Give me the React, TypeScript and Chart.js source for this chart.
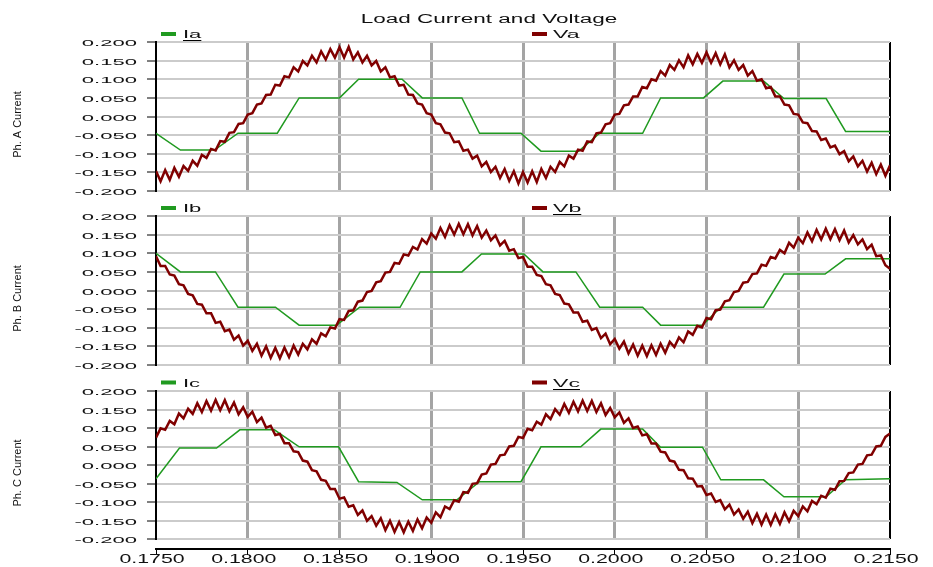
import React, { useEffect, useRef } from "react";
import { Chart, registerables } from "chart.js";

Chart.register(...registerables);

// ---------------- axes / labels ----------------
const X_MIN = 0.175;
const X_MAX = 0.215;
const X_STEP = 0.005;
const Y_MIN = -0.2;
const Y_MAX = 0.2;
const Y_STEP = 0.05;
const X_DECIMALS = 4;
const Y_DECIMALS = 3;

const CHART_TITLE = "Load Current and Voltage";
const Y_TITLES = ["Ph. A Current", "Ph. B Current", "Ph. C Current"];
const I_NAMES = ["Ia", "Ib", "Ic"];
const V_NAMES = ["Va", "Vb", "Vc"];

// ---------------- voltage traces (sampled every 0.25 ms from 0.1750 s) ----------------
const V_T0 = 0.175;
const V_DT = 0.00025;

const VA = [
  -0.146, -0.174, -0.144, -0.170, -0.138, -0.162, -0.133, -0.146, -0.119, -0.132, -0.103, -0.111, -0.087, -0.091, -0.066, -0.068, -0.044, -0.042, -0.020, -0.018, 0.005,
  0.009, 0.032, 0.035, 0.058, 0.059, 0.085, 0.083, 0.108, 0.105, 0.132, 0.121, 0.149, 0.137, 0.163, 0.145, 0.175, 0.153, 0.181, 0.158, 0.186,
  0.158, 0.187, 0.153, 0.172, 0.145, 0.163, 0.137, 0.149, 0.121, 0.132, 0.105, 0.108, 0.083, 0.085, 0.059, 0.058, 0.035, 0.032, 0.009, 0.005,
  -0.018, -0.021, -0.043, -0.045, -0.069, -0.067, -0.092, -0.089, -0.113, -0.105, -0.134, -0.122, -0.149, -0.135, -0.165, -0.141, -0.173, -0.147, -0.180, -0.149,
  -0.177, -0.147, -0.176, -0.141, -0.165, -0.135, -0.149, -0.122, -0.134, -0.105, -0.113, -0.089, -0.092, -0.067, -0.069, -0.045, -0.043, -0.021, -0.018, 0.005,
  0.007, 0.030, 0.032, 0.054, 0.054, 0.079, 0.076, 0.100, 0.096, 0.122, 0.110, 0.138, 0.125, 0.151, 0.132, 0.164, 0.140, 0.168, 0.144, 0.172,
  0.144, 0.170, 0.140, 0.167, 0.132, 0.151, 0.125, 0.138, 0.110, 0.122, 0.096, 0.100, 0.076, 0.079, 0.054, 0.054, 0.032, 0.030, 0.007, 0.005,
  -0.016, -0.018, -0.039, -0.040, -0.063, -0.059, -0.083, -0.078, -0.101, -0.093, -0.120, -0.107, -0.134, -0.119, -0.148, -0.124, -0.155, -0.129, -0.159, -0.131,
];

const VB = [
  0.092, 0.066, 0.066, 0.043, 0.040, 0.017, 0.014,
  -0.009, -0.013, -0.036, -0.038, -0.061, -0.061, -0.087, -0.084, -0.109, -0.105, -0.132, -0.121, -0.148, -0.135, -0.162, -0.143, -0.175, -0.150, -0.181, -0.154,
  -0.182, -0.153, -0.179, -0.148, -0.172, -0.143, -0.158, -0.131, -0.143, -0.115, -0.123, -0.099, -0.102, -0.077, -0.079, -0.055, -0.053, -0.030, -0.027, -0.004,
  -0.001, 0.022, 0.025, 0.048, 0.050, 0.074, 0.072, 0.097, 0.094, 0.117, 0.110, 0.138, 0.126, 0.153, 0.139, 0.168, 0.144, 0.175, 0.150, 0.179,
  0.151, 0.178, 0.148, 0.173, 0.142, 0.161, 0.135, 0.148, 0.121, 0.133, 0.107, 0.111, 0.087, 0.090, 0.064, 0.064, 0.042, 0.039, 0.017, 0.014,
  -0.009, -0.012, -0.035, -0.037, -0.059, -0.059, -0.084, -0.081, -0.106, -0.101, -0.128, -0.116, -0.144, -0.130, -0.156, -0.137, -0.169, -0.145, -0.175, -0.148,
  -0.176, -0.147, -0.173, -0.143, -0.167, -0.138, -0.152, -0.126, -0.139, -0.110, -0.119, -0.095, -0.099, -0.074, -0.077, -0.053, -0.051, -0.029, -0.026, -0.004,
  -0.001, 0.021, 0.023, 0.044, 0.046, 0.069, 0.066, 0.090, 0.086, 0.109, 0.100, 0.128, 0.115, 0.142, 0.127, 0.156, 0.132, 0.163, 0.137, 0.166,
  0.138, 0.165, 0.135, 0.161, 0.129, 0.149, 0.124, 0.137, 0.111, 0.123, 0.092, 0.094, 0.068, 0.058,
];

const VC = [
  0.074, 0.099, 0.095, 0.119, 0.110, 0.139, 0.126, 0.152, 0.138, 0.167, 0.143, 0.173, 0.147, 0.176,
  0.148, 0.175, 0.145, 0.169, 0.137, 0.156, 0.130, 0.144, 0.116, 0.128, 0.101, 0.106, 0.081, 0.084, 0.059, 0.059, 0.037, 0.035, 0.012, 0.009,
  -0.014, -0.017, -0.040, -0.043, -0.065, -0.065, -0.091, -0.088, -0.113, -0.109, -0.135, -0.123, -0.151, -0.138, -0.164, -0.144, -0.176, -0.151, -0.181, -0.154,
  -0.182, -0.153, -0.178, -0.147, -0.171, -0.142, -0.156, -0.128, -0.141, -0.112, -0.119, -0.095, -0.099, -0.073, -0.075, -0.051, -0.049, -0.026, -0.023, 0.001,
  0.003, 0.026, 0.028, 0.050, 0.052, 0.076, 0.073, 0.098, 0.094, 0.117, 0.109, 0.137, 0.124, 0.151, 0.136, 0.165, 0.141, 0.171, 0.145, 0.174,
  0.146, 0.173, 0.143, 0.167, 0.135, 0.154, 0.129, 0.142, 0.114, 0.126, 0.100, 0.104, 0.080, 0.083, 0.058, 0.058, 0.036, 0.034, 0.012, 0.009,
  -0.013, -0.014, -0.036, -0.037, -0.058, -0.057, -0.081, -0.077, -0.100, -0.095, -0.120, -0.107, -0.134, -0.120, -0.145, -0.126, -0.157, -0.132, -0.161, -0.134,
  -0.162, -0.133, -0.159, -0.128, -0.152, -0.124, -0.138, -0.112, -0.125, -0.097, -0.106, -0.083, -0.088, -0.064, -0.067, -0.044, -0.043, -0.022, -0.020, 0.001,
  0.003, 0.026, 0.028, 0.050, 0.052, 0.076, 0.085,
];

// ---------------- current traces (breakpoints: time, value) ----------------
const IA_T = [0.175, 0.17633, 0.17819, 0.17947, 0.18161, 0.1828, 0.185, 0.18604, 0.18841, 0.18951, 0.19167, 0.19263, 0.19489, 0.19598, 0.19804, 0.19918, 0.20152, 0.2025, 0.20484, 0.20589, 0.20811, 0.20922, 0.21152, 0.21258, 0.215];
const IA_V = [-0.045, -0.09, -0.09, -0.045, -0.045, 0.05, 0.05, 0.1, 0.1, 0.05, 0.05, -0.045, -0.045, -0.093, -0.093, -0.045, -0.045, 0.05, 0.05, 0.095, 0.095, 0.048, 0.048, -0.04, -0.04];

const IB_T = [0.175, 0.17633, 0.17824, 0.17947, 0.18151, 0.1828, 0.18484, 0.1861, 0.1883, 0.1894, 0.19167, 0.19274, 0.19505, 0.19609, 0.19788, 0.19918, 0.20152, 0.2025, 0.20478, 0.20578, 0.20811, 0.20922, 0.21146, 0.21258, 0.215];
const IB_V = [0.1, 0.05, 0.05, -0.045, -0.045, -0.093, -0.093, -0.045, -0.045, 0.05, 0.05, 0.098, 0.098, 0.05, 0.05, -0.045, -0.045, -0.093, -0.093, -0.045, -0.045, 0.044, 0.044, 0.085, 0.085];

const IC_T = [0.175, 0.17628, 0.1783, 0.17957, 0.18145, 0.1828, 0.18495, 0.18604, 0.18813, 0.18951, 0.1914, 0.19263, 0.19489, 0.19598, 0.19815, 0.19924, 0.20152, 0.2025, 0.20478, 0.20578, 0.20811, 0.20922, 0.21152, 0.21258, 0.215];
const IC_V = [-0.037, 0.046, 0.046, 0.095, 0.095, 0.049, 0.049, -0.045, -0.047, -0.094, -0.094, -0.045, -0.045, 0.049, 0.049, 0.097, 0.097, 0.048, 0.048, -0.04, -0.04, -0.086, -0.086, -0.04, -0.037];

// ---------------- styling ----------------
const RED = "#800000";
const GREEN = "#209a20";
const FONT = '"Liberation Sans", Arial, Helvetica, sans-serif';
const W = 933;

type Spec = {
  top: number;
  height: number;
  padTop: number;
  padBottom: number;
  xGap: number;
  legendY: number;
  underline: "i" | "v";
  title: boolean;
  xLabels: boolean;
  yTitle: string;
  iName: string;
  vName: string;
  it: number[];
  iv: number[];
  v: number[];
};

const PANELS: Spec[] = [
  { top: 0, height: 200, padTop: 42, padBottom: 9, xGap: 0, legendY: 34, underline: "i", title: true, xLabels: false, yTitle: Y_TITLES[0], iName: I_NAMES[0], vName: V_NAMES[0], it: IA_T, iv: IA_V, v: VA },
  { top: 200, height: 174, padTop: 16, padBottom: 9, xGap: 0, legendY: 8, underline: "v", title: false, xLabels: false, yTitle: Y_TITLES[1], iName: I_NAMES[1], vName: V_NAMES[1], it: IB_T, iv: IB_V, v: VB },
  { top: 374, height: 193, padTop: 17, padBottom: 0, xGap: 10, legendY: 8.5, underline: "v", title: false, xLabels: true, yTitle: Y_TITLES[2], iName: I_NAMES[2], vName: V_NAMES[2], it: IC_T, iv: IC_V, v: VC },
];

function drawStretched(
  ctx: CanvasRenderingContext2D,
  text: string,
  x: number,
  y: number,
  size: number,
  sx: number,
  align: "left" | "center" | "right",
  underline = false
) {
  ctx.save();
  ctx.font = `${size}px ${FONT}`;
  ctx.textAlign = "left";
  ctx.textBaseline = "alphabetic";
  ctx.fillStyle = "#111";
  const w = ctx.measureText(text).width * sx;
  const left = align === "center" ? x - w / 2 : align === "right" ? x - w : x;
  ctx.translate(left, y);
  ctx.scale(sx, 1);
  ctx.fillText(text, 0, 0);
  ctx.restore();
  if (underline) {
    ctx.save();
    ctx.strokeStyle = "#000";
    ctx.lineWidth = 1;
    ctx.beginPath();
    ctx.moveTo(left, Math.round(y + 2) + 0.5);
    ctx.lineTo(left + w, Math.round(y + 2) + 0.5);
    ctx.stroke();
    ctx.restore();
  }
}

const panelText = {
  id: "panelText",
  afterDraw(chart: any, _args: any, opts: any) {
    const spec: Spec = opts.spec;
    if (!spec) return;
    const ctx: CanvasRenderingContext2D = chart.ctx;
    const area = chart.chartArea;

    // title
    if (spec.title) drawStretched(ctx, CHART_TITLE, 489, 23, 12.5, 1.8, "center");

    // legend
    const cy = spec.legendY;
    ctx.save();
    ctx.fillStyle = GREEN;
    ctx.fillRect(161, cy - 2, 15, 4);
    ctx.fillStyle = RED;
    ctx.fillRect(532, cy - 2, 15, 4);
    ctx.restore();
    drawStretched(ctx, spec.iName, 183, cy + 4, 11, 2.0, "left", spec.underline === "i");
    drawStretched(ctx, spec.vName, 553, cy + 4, 11, 2.1, "left", spec.underline === "v");

    // y axis title (rotated)
    ctx.save();
    ctx.translate(21, (area.top + area.bottom) / 2 + 8);
    ctx.rotate(-Math.PI / 2);
    ctx.font = `11px ${FONT}`;
    ctx.fillStyle = "#111";
    ctx.textAlign = "center";
    ctx.textBaseline = "alphabetic";
    ctx.fillText(spec.yTitle, 0, 0);
    ctx.restore();

    // y tick labels
    const ys = chart.scales.y;
    ys.ticks.forEach((t: any, i: number) => {
      const v = Math.abs(t.value) < 1e-9 ? 0 : t.value;
      drawStretched(ctx, v.toFixed(Y_DECIMALS), 137, ys.getPixelForTick(i) + 4, 9, 2.45, "right");
    });

    // x tick labels
    if (spec.xLabels) {
      const xs = chart.scales.x2;
      xs.ticks.forEach((t: any, i: number) => {
        drawStretched(ctx, t.value.toFixed(X_DECIMALS), xs.getPixelForTick(i) - 4, spec.height - 4, 13, 1.64, "center");
      });
    }
  },
};

function buildConfig(spec: Spec): any {
  const vData = spec.v.map((y, i) => ({ x: V_T0 + i * V_DT, y }));
  const iData = spec.it.map((x, i) => ({ x, y: spec.iv[i] }));
  const edge = (c: any) => c.index === 0 || c.index === Math.round((X_MAX - X_MIN) / X_STEP);
  const scales: any = {
    x: {
      type: "linear",
      min: X_MIN,
      max: X_MAX,
      ticks: { display: false, stepSize: X_STEP },
      grid: {
        display: true,
        drawTicks: false,
        color: (c: any) => (edge(c) ? "#000" : "#a4a4a4"),
        lineWidth: (c: any) => (edge(c) ? 2 : 3),
      },
      border: { display: false },
      afterFit: (s: any) => {
        s.height = spec.xGap;
      },
    },
    y: {
      type: "linear",
      min: Y_MIN,
      max: Y_MAX,
      ticks: { display: false, stepSize: Y_STEP },
      grid: { color: "#cbcbcb", lineWidth: 2, drawTicks: true, tickLength: 9, tickColor: "#000", tickWidth: 1 },
      border: { display: true, color: "#000", width: 2 },
      afterFit: (s: any) => {
        s.width = 156;
      },
    },
  };
  if (spec.xLabels) {
    scales.x2 = {
      type: "linear",
      position: "bottom",
      weight: 1,
      min: X_MIN,
      max: X_MAX,
      ticks: { display: false, stepSize: X_STEP },
      grid: { display: true, drawOnChartArea: false, drawTicks: true, tickLength: 6, tickColor: "#000", tickWidth: 1 },
      border: { display: true, color: "#000", width: 2 },
      afterFit: (s: any) => {
        s.height = 18;
      },
    };
  }
  return {
    type: "line",
    data: {
      datasets: [
        { label: spec.vName, data: vData, borderColor: RED, backgroundColor: RED, borderWidth: 2.5, pointRadius: 0, tension: 0, order: 0 },
        { label: spec.iName, data: iData, borderColor: GREEN, backgroundColor: GREEN, borderWidth: 1.5, pointRadius: 0, tension: 0, order: 1 },
      ],
    },
    options: {
      responsive: false,
      maintainAspectRatio: false,
      animation: false,
      devicePixelRatio: 1,
      layout: { padding: { left: 0, right: 43, top: spec.padTop, bottom: spec.padBottom } },
      scales,
      plugins: {
        legend: { display: false },
        title: { display: false },
        tooltip: { enabled: false },
        panelText: { spec },
      },
    },
    plugins: [panelText],
  };
}

function Panel({ spec }: { spec: Spec }) {
  const ref = useRef<HTMLCanvasElement>(null);
  useEffect(() => {
    const chart = new Chart(ref.current as HTMLCanvasElement, buildConfig(spec));
    return () => chart.destroy();
  }, [spec]);
  return (
    <canvas
      ref={ref}
      width={W}
      height={spec.height}
      style={{ position: "absolute", left: 0, top: spec.top, width: W, height: spec.height, display: "block" }}
    />
  );
}

export default function App() {
  return (
    <div style={{ position: "absolute", left: 0, top: 0, width: W, height: 567, background: "#fff", overflow: "hidden" }}>
      {PANELS.map((p, i) => (
        <Panel key={i} spec={p} />
      ))}
    </div>
  );
}
